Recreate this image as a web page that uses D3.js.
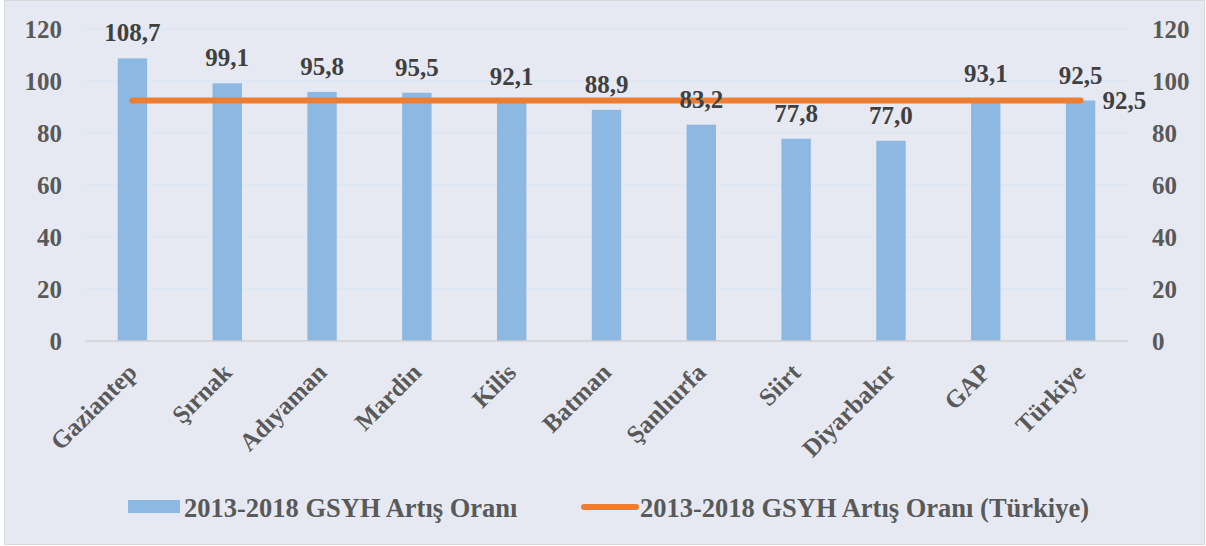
<!DOCTYPE html>
<html>
<head>
<meta charset="utf-8">
<script src="https://cdn.jsdelivr.net/npm/d3@7"></script>
<style>
  body { margin: 0; background: #fff; }
  svg text { font-family: "Liberation Serif", "DejaVu Serif", serif !important; font-weight: bold; }
</style>
</head>
<body>
<svg id="chart" width="1206" height="546"></svg>
<script>
// data
const provinces = ["Gaziantep", "Şırnak", "Adıyaman", "Mardin", "Kilis", "Batman", "Şanlıurfa", "Siirt", "Diyarbakır", "GAP", "Türkiye"];
const growthRates = [108.7, 99.1, 95.8, 95.5, 92.1, 88.9, 83.2, 77.8, 77.0, 93.1, 92.5];
const turkeyRate = [92.5, 92.5, 92.5, 92.5, 92.5, 92.5, 92.5, 92.5, 92.5, 92.5, 92.5];
const yTicks = [0, 20, 40, 60, 80, 100, 120];
const barLabel = "2013-2018 GSYH Artış Oranı";
const lineLabel = "2013-2018 GSYH Artış Oranı (Türkiye)";

const fmt = v => v.toFixed(1).replace(".", ",");

let svg = d3.select("#chart");

// background + frame
svg.append("rect")
    .attr("x", 4.5).attr("y", 0.5)
    .attr("width", 1200).attr("height", 544)
    .attr("fill", "#e7e9f2")
    .attr("stroke", "#d9d9d9");

let x = d3.scaleBand()
    .domain(provinces)
    .range([85, 1128])
    .paddingInner(0.69)
    .paddingOuter(0.345)

let y = d3.scaleLinear()
    .domain([0, 120])
    .range([341, 29])

// gridlines
svg.append("g")
    .selectAll("line")
    .data(yTicks.filter(d => d > 0))
    .join("line")
    .attr("x1", 85).attr("x2", 1128)
    .attr("y1", d => y(d)).attr("y2", d => y(d))
    .attr("stroke", "#dbe6f4")
    .attr("stroke-width", 1.5)

// left axis
let leftAxis = svg.append("g")
    .attr("transform", "translate(62,0)")
    .call(d3.axisLeft(y).tickValues(yTicks).tickSize(0).tickPadding(0))
leftAxis.attr("font-family", null)
leftAxis.select(".domain").remove()
leftAxis.selectAll("text")
    .attr("font-size", 25)
    .attr("fill", "#595959")
    .attr("dy", "0.33em")

// right axis
let rightAxis = svg.append("g")
    .attr("transform", "translate(1152,0)")
    .call(d3.axisRight(y).tickValues(yTicks).tickSize(0).tickPadding(0))
rightAxis.attr("font-family", null)
rightAxis.select(".domain").remove()
rightAxis.selectAll("text")
    .attr("font-size", 25)
    .attr("fill", "#595959")
    .attr("dy", "0.33em")

// bars
svg.append("g")
    .selectAll("rect")
    .data(growthRates)
    .join("rect")
    .attr("x", (d, i) => x(provinces[i]))
    .attr("y", d => y(d))
    .attr("width", x.bandwidth())
    .attr("height", d => y(0) - y(d))
    .attr("fill", "#8db8e2")

// baseline
svg.append("line")
    .attr("x1", 85).attr("x2", 1128)
    .attr("y1", y(0)).attr("y2", y(0))
    .attr("stroke", "#d0d0d0")
    .attr("stroke-width", 1.5)

// Turkey line
let line = d3.line()
    .x((d, i) => x(provinces[i]) + x.bandwidth() / 2)
    .y(d => y(d))

svg.append("path")
    .datum(turkeyRate)
    .attr("d", line)
    .attr("fill", "none")
    .attr("stroke", "#ed7d31")
    .attr("stroke-width", 6)
    .attr("stroke-linecap", "round")

// bar value labels
svg.append("g")
    .selectAll("text")
    .data(growthRates)
    .join("text")
    .attr("x", (d, i) => x(provinces[i]) + x.bandwidth() / 2)
    .attr("y", d => y(d) - 17)
    .attr("text-anchor", "middle")
    .attr("font-size", 25)
    .attr("fill", "#404040")
    .text(d => fmt(d))

// line label (last point only)
let last = turkeyRate.length - 1;
svg.append("text")
    .attr("x", x(provinces[last]) + x.bandwidth() / 2 + 22)
    .attr("y", y(turkeyRate[last]) + 8)
    .attr("font-size", 25)
    .attr("fill", "#404040")
    .text(fmt(turkeyRate[last]))

// category labels
svg.append("g")
    .selectAll("text")
    .data(provinces)
    .join("text")
    .attr("transform", d => `translate(${x(d) + x.bandwidth() / 2 + 6},374) rotate(-45)`)
    .attr("text-anchor", "end")
    .attr("font-size", 25)
    .attr("fill", "#595959")
    .text(d => d)

// legend
let legend = svg.append("g")
legend.append("rect")
    .attr("x", 128).attr("y", 500)
    .attr("width", 52).attr("height", 13)
    .attr("fill", "#8db8e2")
legend.append("text")
    .attr("x", 184).attr("y", 517)
    .attr("font-size", 26.5)
    .attr("fill", "#595959")
    .text(barLabel)
legend.append("line")
    .attr("x1", 584).attr("x2", 636)
    .attr("y1", 507).attr("y2", 507)
    .attr("stroke", "#ed7d31")
    .attr("stroke-width", 6)
    .attr("stroke-linecap", "round")
legend.append("text")
    .attr("x", 640).attr("y", 517)
    .attr("font-size", 26.5)
    .attr("fill", "#595959")
    .text(lineLabel)
</script>
</body>
</html>
